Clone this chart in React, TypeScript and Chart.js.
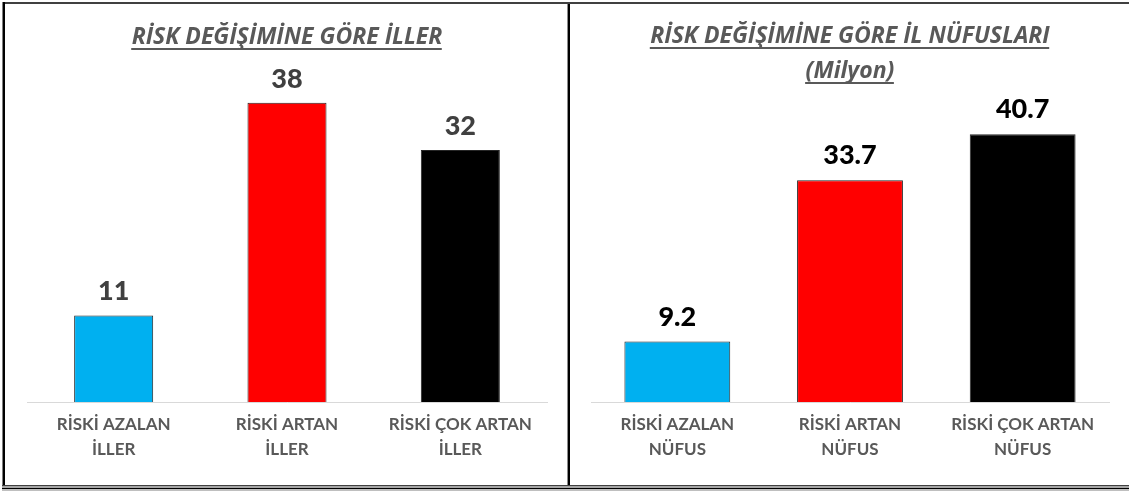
import React, { useEffect, useRef } from "react";
import { Chart, registerables } from "chart.js";

Chart.register(...registerables);

const leftTitle = "RİSK DEĞİŞİMİNE GÖRE İLLER";
const leftCategories = [
  ["RİSKİ AZALAN", "İLLER"],
  ["RİSKİ ARTAN", "İLLER"],
  ["RİSKİ ÇOK ARTAN", "İLLER"],
];
const leftValues = [11, 38, 32];

const rightTitle = ["RİSK DEĞİŞİMİNE GÖRE İL NÜFUSLARI", "(Milyon)"];
const rightCategories = [
  ["RİSKİ AZALAN", "NÜFUS"],
  ["RİSKİ ARTAN", "NÜFUS"],
  ["RİSKİ ÇOK ARTAN", "NÜFUS"],
];
const rightValues = [9.2, 33.7, 40.7];

const barColors = ["#00B0F0", "#FF0000", "#000000"];

const FONT = "Lato, 'Open Sans', sans-serif";
const TITLE_FONT = "'Open Sans', Lato, sans-serif";

const underlinePlugin = {
  id: "titleUnderline",
  afterDraw(chart: any) {
    const tb = chart.titleBlock;
    const opts = chart.options.plugins.title;
    if (!tb || !opts.display) return;
    const ctx = chart.ctx;
    const lines = Array.isArray(opts.text) ? opts.text : [opts.text];
    const size = opts.font.size;
    const lh = size * opts.font.lineHeight;
    ctx.save();
    ctx.font = `${opts.font.style} ${opts.font.weight} ${size}px ${opts.font.family}`;
    ctx.strokeStyle = opts.color;
    ctx.lineWidth = 2;
    const cx = chart.width / 2;
    const top = tb.top + opts.padding.top;
    lines.forEach((t: string, i: number) => {
      const w = ctx.measureText(t).width;
      const y = Math.round(top + lh / 2 + i * lh + size * 0.5);
      ctx.beginPath();
      ctx.moveTo(cx - w / 2, y);
      ctx.lineTo(cx + w / 2, y);
      ctx.stroke();
    });
    ctx.restore();
  },
};

const valueLabelPlugin = {
  id: "valueLabels",
  afterDatasetsDraw(chart: any) {
    const ctx = chart.ctx;
    const meta = chart.getDatasetMeta(0);
    const ds = chart.data.datasets[0];
    const cfg = chart.options.plugins.valueLabels || {};
    ctx.save();
    ctx.font = `900 27px ${FONT}`;
    ctx.fillStyle = cfg.color || "#404040";
    ctx.textAlign = "center";
    ctx.textBaseline = "alphabetic";
    meta.data.forEach((bar: any, i: number) => {
      const v = ds.data[i];
      const txt = cfg.decimals ? v.toFixed(cfg.decimals) : String(v);
      ctx.fillText(txt, bar.x, bar.y - (cfg.gap || 15));
    });
    ctx.restore();
  },
};

function makeConfig(
  categories: string[][],
  values: number[],
  title: string | string[],
  yMax: number,
  barPct: number,
  titlePad: { top: number; bottom: number },
  labelColor: string,
  decimals: number,
  gap: number
): any {
  return {
    type: "bar",
    data: {
      labels: categories,
      datasets: [
        {
          data: values,
          backgroundColor: barColors,
          borderColor: "#262626",
          borderWidth: 1,
          categoryPercentage: 1,
          barPercentage: barPct,
        },
      ],
    },
    options: {
      animation: false,
      responsive: false,
      maintainAspectRatio: false,
      layout: { padding: { left: 21, right: 20, top: 0, bottom: 20 } },
      plugins: {
        legend: { display: false },
        tooltip: { enabled: false },
        title: {
          display: true,
          text: title,
          color: "#595959",
          font: { family: TITLE_FONT, size: 23, weight: "bold", style: "italic", lineHeight: 35 / 23 },
          padding: titlePad,
        },
        valueLabels: { color: labelColor, decimals, gap },
      },
      scales: {
        x: {
          grid: { display: false },
          border: { display: true, color: "#D9D9D9", width: 1 },
          ticks: {
            color: "#595959",
            font: { family: FONT, size: 17, weight: "bold", lineHeight: 1.47 },
            padding: 2,
            maxRotation: 0,
            autoSkip: false,
          },
        },
        y: {
          display: false,
          min: 0,
          max: yMax,
        },
      },
    },
    plugins: [underlinePlugin, valueLabelPlugin],
  };
}

function ChartCanvas({ config, width, height }: { config: () => any; width: number; height: number }) {
  const ref = useRef<HTMLCanvasElement>(null);
  useEffect(() => {
    if (!ref.current) return;
    const chart = new Chart(ref.current, config());
    return () => chart.destroy();
  }, []);
  return <canvas ref={ref} width={width} height={height} style={{ width, height, display: "block" }} />;
}

export default function App() {
  return (
    <div
      style={{
        position: "fixed",
        left: 0,
        top: 0,
        width: 1129,
        height: 493,
        background: "#FFFFFF",
        overflow: "hidden",
      }}
    >
      {/* frame */}
      <div style={{ position: "absolute", left: 2, top: 2, width: 1127, height: 2, background: "#404040" }} />
      <div style={{ position: "absolute", left: 2, top: 2, width: 1, height: 486, background: "#7F7F7F" }} />
      <div style={{ position: "absolute", left: 3, top: 2, width: 2, height: 486, background: "#000000" }} />
      <div style={{ position: "absolute", left: 567, top: 4, width: 1, height: 482, background: "#8C8C8C" }} />
      <div style={{ position: "absolute", left: 568, top: 4, width: 2, height: 482, background: "#000000" }} />
      <div style={{ position: "absolute", left: 2, top: 485, width: 1127, height: 1, background: "#404040" }} />
      <div style={{ position: "absolute", left: 2, top: 486, width: 1127, height: 2, background: "#A6A6A6" }} />
      <div style={{ position: "absolute", left: 2, top: 488, width: 1127, height: 1, background: "#000000" }} />
      <div style={{ position: "absolute", left: 2, top: 489, width: 1127, height: 2, background: "#BFBFBF" }} />

      <div style={{ position: "absolute", left: 6, top: 5 }}>
        <ChartCanvas
          width={561}
          height={479}
          config={() =>
            makeConfig(leftCategories, leftValues, leftTitle, 40, 0.456, { top: 15, bottom: 32 }, "#404040", 0, 15)
          }
        />
      </div>
      <div style={{ position: "absolute", left: 570, top: 5 }}>
        <ChartCanvas
          width={559}
          height={479}
          config={() =>
            makeConfig(rightCategories, rightValues, rightTitle, 45, 0.613, { top: 14, bottom: 17 }, "#000000", 1, 16)
          }
        />
      </div>
    </div>
  );
}
